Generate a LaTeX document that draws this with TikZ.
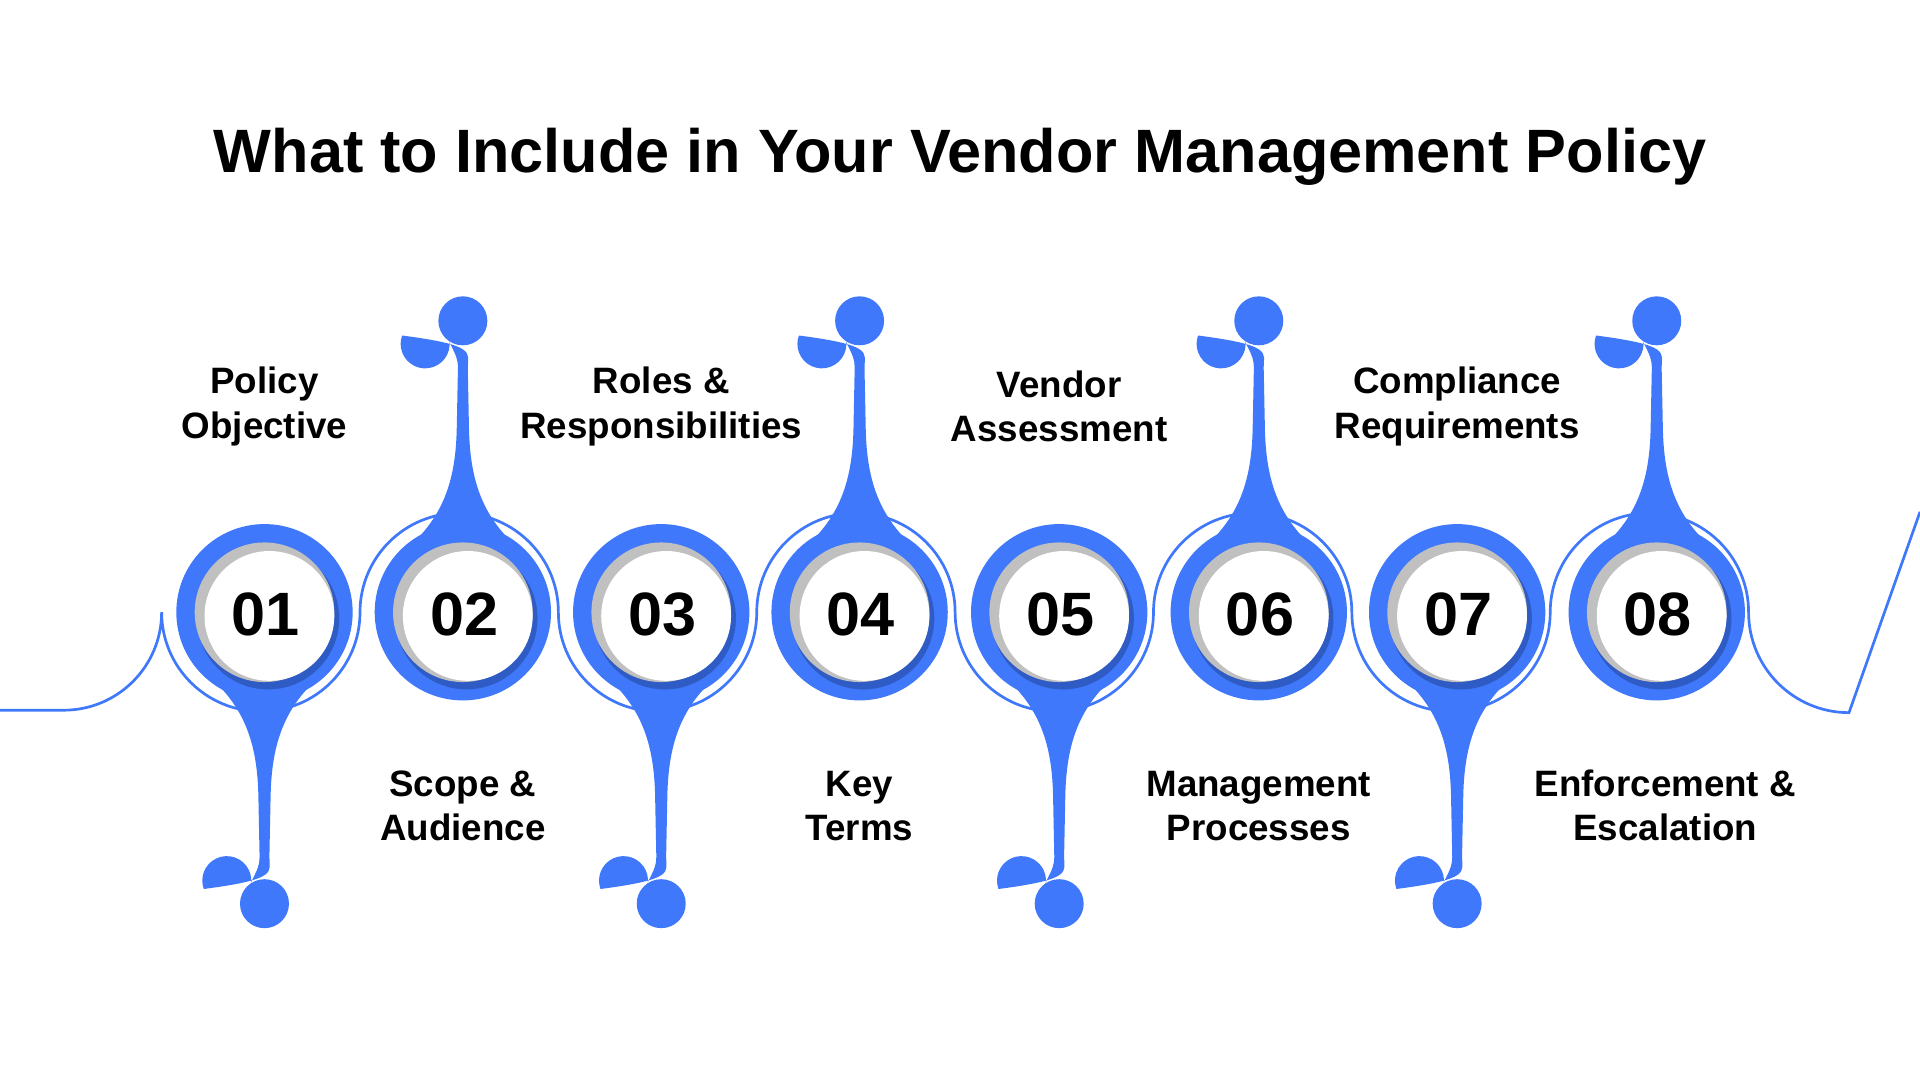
\documentclass[tikz,border=0pt]{standalone}
\usepackage{fontspec}
\setmainfont{Liberation Sans}
\definecolor{vblue}{HTML}{3F78FA}
\definecolor{vdark}{HTML}{2F5BC4}
\definecolor{vgray}{HTML}{C0C0C0}
\begin{document}
\begin{tikzpicture}[x=1pt,y=-1pt,
  lbl/.style={font=\bfseries\fontsize{30}{36}\selectfont,align=center,text=black},
  num/.style={font=\bfseries\fontsize{50}{50}\selectfont,text=black},
  ring/.style={draw=vblue,line width=2.2pt}]
\useasboundingbox (0,0) rectangle (1568,882);
\fill[white] (0,0) rectangle (1568,882);
\node[font=\bfseries\fontsize{50}{60}\selectfont] (title) at (784,128) {What to Include in Your Vendor Management Policy};
% wavy ring
\draw[ring] (0,580) -- (52,580) arc[start angle=90,end angle=0,radius=80]
  \foreach \i in {0,...,3}{ arc[start angle=180,end angle=0,radius=81] arc[start angle=180,end angle=360,radius=81]}
  arc[start angle=180,end angle=90,radius=82] -- (1568,418);
\foreach \n/\cx/\s in {01/216/1,02/378/-1,03/540/1,04/702/-1,05/865/1,06/1028/-1,07/1190/1,08/1353/-1}{
  \begin{scope}[shift={(\cx,500)},yscale=\s]
    \fill[vblue] (-58,42) .. controls (-20,70) and (-6,100) .. (-5,150) -- (-4,200)
      .. controls (-4,212) and (-12,218) .. (-12,226) arc[start angle=200,end angle=-20,radius=-20]
      .. controls (12,218) and (4,212) .. (4,200) -- (5,150)
      .. controls (6,100) and (20,70) .. (58,42) -- cycle;
    \fill[vblue] (0,238) circle[radius=20];
  \end{scope}
  \fill[vblue] (\cx,500) circle[radius=72];
  \fill[vdark] (\cx+3,505) circle[radius=58];
  \fill[vgray] (\cx,500) circle[radius=57];
  \fill[white] (\cx+4,503) circle[radius=53];
  \node[num] (n\n) at (\cx+1,502) {\n};
}
\node[lbl] (l1) at (216,332) {Policy\\Objective};
\node[lbl] (l3) at (540,332) {Roles \&\\Responsibilities};
\node[lbl] (l5) at (865,332) {Vendor\\Assessment};
\node[lbl] (l7) at (1190,332) {Compliance\\Requirements};
\node[lbl] (l2) at (378,658) {Scope \&\\Audience};
\node[lbl] (l4) at (702,658) {Key\\Terms};
\node[lbl] (l6) at (1028,658) {Management\\Processes};
\node[lbl] (l8) at (1360,658) {Enforcement \&\\Escalation};
\end{tikzpicture}
\end{document}
